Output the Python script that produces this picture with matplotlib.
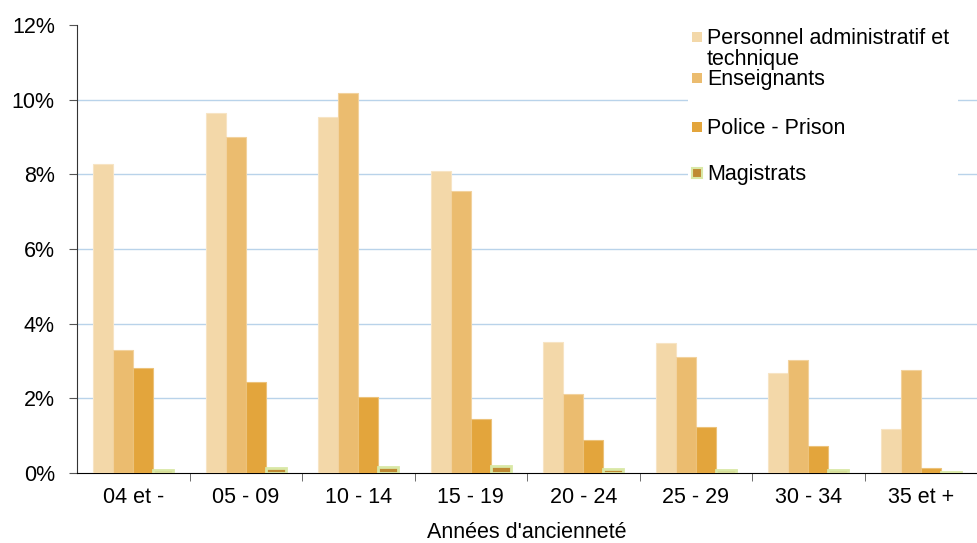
import numpy as np
import matplotlib
matplotlib.use('Agg')
from matplotlib import pyplot as plt
from matplotlib.patches import Rectangle
from matplotlib.ticker import FixedLocator, FuncFormatter

plt.rcParams['font.family'] = ['Liberation Sans', 'DejaVu Sans']

categories = ['04 et -', '05 - 09', '10 - 14', '15 - 19', '20 - 24', '25 - 29', '30 - 34', '35 et +']
series_names = ['Personnel administratif et\ntechnique', 'Enseignants', 'Police - Prison', 'Magistrats']
personnel = [8.28, 9.64, 9.54, 8.09, 3.51, 3.48, 2.68, 1.18]
enseignants = [3.29, 9.0, 10.18, 7.55, 2.12, 3.11, 3.03, 2.76]
police = [2.81, 2.44, 2.04, 1.45, 0.88, 1.23, 0.72, 0.13]
magistrats = [0.08, 0.14, 0.15, 0.2, 0.1, 0.08, 0.07, 0.03]
y_ticks = [0, 2, 4, 6, 8, 10, 12]

colors = ['#f3d8a9', '#ebbc6f', '#e3a53c', '#bf8a33']
edges = ['#f7e4c4', '#f2d29e', '#ecc27a', '#d9e8a6']

W, H = 977, 543
fig = plt.figure(figsize=(W / 100, H / 100), dpi=100)
ax = fig.add_axes([77 / W, 70 / H, 1 - 77 / W, 448 / H])

x = np.arange(len(categories))
width = 0.177
data = [personnel, enseignants, police, magistrats]
for i, vals in enumerate(data):
	lw = 2.0 if i == 3 else 0.8
	ax.bar(x + (i - 1.5) * width, vals, width, color=colors[i], edgecolor=edges[i],
		linewidth=lw, zorder=3)

ax.set_xlim(-0.5, 7.5)
ax.set_ylim(0, 12)
ax.set_yticks(y_ticks)
ax.yaxis.set_major_formatter(FuncFormatter(lambda v, p: '%d%%' % v))
ax.set_xticks(x)
ax.set_xticklabels(categories)
ax.xaxis.set_minor_locator(FixedLocator(x[:-1] + 0.5))
ax.tick_params(axis='x', which='major', length=0, pad=10, labelsize=15.5, colors='#000000')
ax.tick_params(axis='x', which='minor', length=6, direction='out', color='#555555')
ax.tick_params(axis='y', length=6, direction='out', labelsize=15.5, pad=10, color='#555555')

for y in y_ticks[1:-1]:
	ax.axhline(y, color='#b9d3ea', lw=1, zorder=1)

ax.spines['top'].set_visible(False)
ax.spines['right'].set_visible(False)
ax.spines['left'].set_color('#333333')
ax.spines['bottom'].set_color('#000000')

ax.set_xlabel("Années d'ancienneté", fontsize=15.5, labelpad=10)

# legend drawn by hand so the square sits on the first line of the two-line label
def fx(px):
	return px / W


def fy(py):
	return 1 - py / H


fig.patches.append(Rectangle((fx(688), fy(190)), fx(958) - fx(688), fy(20) - fy(190),
	transform=fig.transFigure, facecolor='white', edgecolor='none', zorder=4))
legend_y = [37, 78, 127, 173]
for i, name in enumerate(series_names):
	yc = legend_y[i]
	lw = 1.5 if i == 3 else 0
	fig.patches.append(Rectangle((fx(692), fy(yc + 5)), fx(10), 10 / H,
		transform=fig.transFigure, facecolor=colors[i], edgecolor=edges[i], linewidth=lw, zorder=5))
	fig.text(fx(707), fy(yc - 9), name, fontsize=15.5, va='top', ha='left',
		linespacing=1.0, zorder=6)

plt.savefig('out.png', dpi=100)
